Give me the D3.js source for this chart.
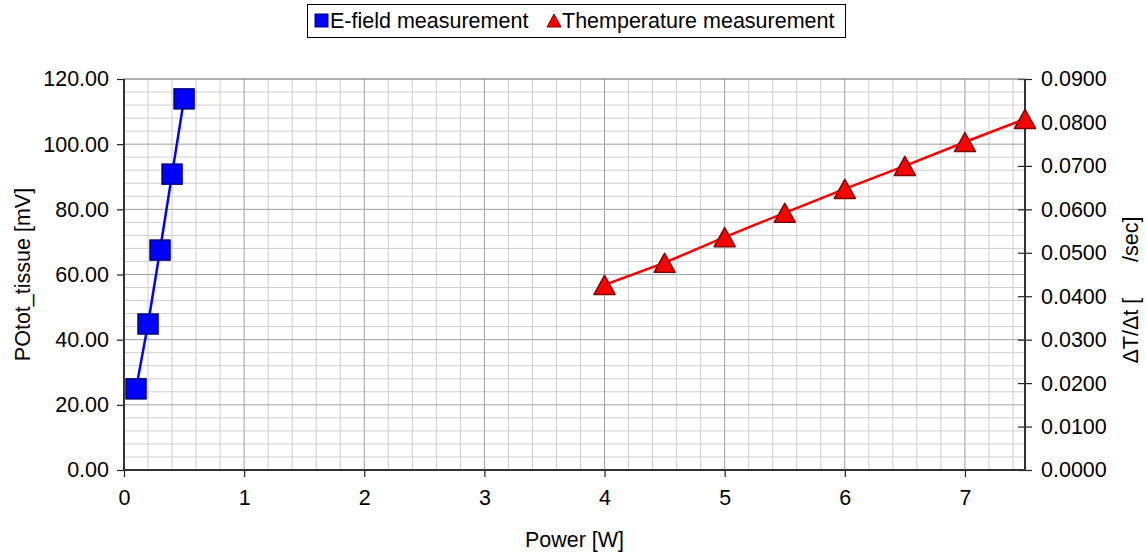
<!DOCTYPE html>
<html><head><meta charset="utf-8">
<script src="https://cdn.jsdelivr.net/npm/d3@7"></script>
<style>body{margin:0;background:#fff}svg{display:block;font-family:"Liberation Sans",Arial,sans-serif}</style>
</head><body><svg id="c" width="1146" height="552"></svg>
<script>
const efieldPower = [0.1, 0.2, 0.3, 0.4, 0.5];
const efieldValues = [24.9, 44.8, 67.5, 90.8, 113.9];
const tempPower = [4, 4.5, 5, 5.5, 6, 6.5, 7, 7.5];
const tempValues = [0.0426, 0.0477, 0.0536, 0.0592, 0.0647, 0.0700, 0.0755, 0.0808];
const xTicks = [0, 1, 2, 3, 4, 5, 6, 7];
const leftTicks = [0, 20, 40, 60, 80, 100, 120];
const rightTicks = [0, 0.01, 0.02, 0.03, 0.04, 0.05, 0.06, 0.07, 0.08, 0.09];
const seriesNames = ["E-field measurement", "Themperature measurement"];
const axisTitles = {x: "Power [W]", left: "POtot_tissue [mV]", right: "\u0394T/\u0394t [\u00a0\u00a0\u00a0\u00a0\u00a0\u00a0/sec]"};

const L = 124, R = 1025, T = 79, B = 470;
const svg = d3.select("#c");
const x = d3.scaleLinear().domain([0, 7.5]).range([L, R]);
const yL = d3.scaleLinear().domain([0, 120]).range([B, T]);
const yR = d3.scaleLinear().domain([0, 0.09]).range([B, T]);

// grid
const g = svg.append("g");
const minorX = d3.range(0, 7.5001, 0.2).filter(v => Math.abs(v - Math.round(v)) > 1e-6);
const minorY = d3.range(0, 120.001, 4).filter(v => v % 20 !== 0);
g.selectAll(".mx").data(minorX).join("line").attr("x1", d => x(d)).attr("x2", d => x(d)).attr("y1", T).attr("y2", B).attr("stroke", "#cfcfcf").attr("stroke-width", 1);
g.selectAll(".my").data(minorY).join("line").attr("y1", d => yL(d)).attr("y2", d => yL(d)).attr("x1", L).attr("x2", R).attr("stroke", "#cfcfcf").attr("stroke-width", 1);
g.selectAll(".Mx").data(xTicks.slice(1)).join("line").attr("x1", d => x(d)).attr("x2", d => x(d)).attr("y1", T).attr("y2", B).attr("stroke", "#a0a0a0").attr("stroke-width", 1);
g.selectAll(".My").data(leftTicks.slice(1)).join("line").attr("y1", d => yL(d)).attr("y2", d => yL(d)).attr("x1", L).attr("x2", R).attr("stroke", "#a0a0a0").attr("stroke-width", 1);

// axes
const fs = "21.5px";
const ax = svg.append("g").attr("transform", `translate(0,${B})`).call(d3.axisBottom(x).tickValues(xTicks).tickFormat(d3.format("d")).tickSize(7).tickPadding(13));
const al = svg.append("g").attr("transform", `translate(${L},0)`).call(d3.axisLeft(yL).tickValues(leftTicks).tickFormat(d3.format(".2f")).tickSize(7).tickPadding(8));
const ar = svg.append("g").attr("transform", `translate(${R},0)`).call(d3.axisRight(yR).tickValues(rightTicks).tickFormat(d3.format(".4f")).tickSize(7).tickPadding(9));
ar.selectAll(".tick line").attr("x1", -7);
[ax, al, ar].forEach(a => {
  a.select(".domain").remove();
  a.selectAll(".tick line").attr("stroke", "#222").attr("stroke-width", 1.2);
  a.selectAll("text").attr("font-size", fs).attr("fill", "#000").attr("font-family", "Liberation Sans, Arial, sans-serif");
});
svg.append("line").attr("x1", L).attr("x2", R).attr("y1", T).attr("y2", T).attr("stroke", "#909090");
svg.append("line").attr("x1", L).attr("x2", L).attr("y1", T).attr("y2", B + 1).attr("stroke", "#333").attr("stroke-width", 2);
svg.append("line").attr("x1", R).attr("x2", R).attr("y1", T).attr("y2", B + 1).attr("stroke", "#333").attr("stroke-width", 2);
svg.append("line").attr("x1", L - 1).attr("x2", R + 1).attr("y1", B).attr("y2", B).attr("stroke", "#333").attr("stroke-width", 2);

// titles
svg.append("text").attr("x", x(3.75)).attr("y", 547).attr("text-anchor", "middle").attr("font-size", fs).text(axisTitles.x);
svg.append("text").attr("transform", `translate(30,${(T + B) / 2}) rotate(-90)`).attr("text-anchor", "middle").attr("font-size", fs).text(axisTitles.left);
svg.append("text").attr("transform", `translate(1138,290) rotate(-90)`).attr("text-anchor", "middle").attr("font-size", fs).text(axisTitles.right);

// series
const ef = efieldPower.map((p, i) => [p, efieldValues[i]]);
const tp = tempPower.map((p, i) => [p, tempValues[i]]);
svg.append("path").datum(ef).attr("d", d3.line().x(d => x(d[0])).y(d => yL(d[1]))).attr("fill", "none").attr("stroke", "#0000ff").attr("stroke-width", 2.5);
svg.append("path").datum(tp).attr("d", d3.line().x(d => x(d[0])).y(d => yR(d[1]))).attr("fill", "none").attr("stroke", "#ff0000").attr("stroke-width", 2.5);
const triPath = (w, h) => `M0,${-h / 2}L${w / 2},${h / 2}L${-w / 2},${h / 2}Z`;
svg.selectAll(".sq").data(ef).join("rect").attr("x", d => x(d[0]) - 10).attr("y", d => yL(d[1]) - 10).attr("width", 20).attr("height", 20).attr("fill", "#0000ff").attr("stroke", "#000080").attr("stroke-width", 1.5);
svg.selectAll(".tri").data(tp).join("path").attr("transform", d => `translate(${x(d[0])},${yR(d[1])})`).attr("d", triPath(21, 19)).attr("fill", "#ff0000").attr("stroke", "#800000").attr("stroke-width", 1.5).attr("stroke-linejoin", "round");

// legend
svg.append("rect").attr("x", 307.5).attr("y", 4.5).attr("width", 538).attr("height", 33).attr("fill", "#fff").attr("stroke", "#000").attr("stroke-width", 1);
svg.append("rect").attr("x", 315).attr("y", 14).attr("width", 13).attr("height", 13).attr("fill", "#0000ff").attr("stroke", "#000080");
svg.append("text").attr("x", 330).attr("y", 28).attr("font-size", fs).text(seriesNames[0]);
svg.append("path").attr("transform", "translate(554,20.5)").attr("d", triPath(14, 13)).attr("fill", "#ff0000").attr("stroke", "#800000");
svg.append("text").attr("x", 562).attr("y", 28).attr("font-size", fs).text(seriesNames[1]);
</script></body></html>
